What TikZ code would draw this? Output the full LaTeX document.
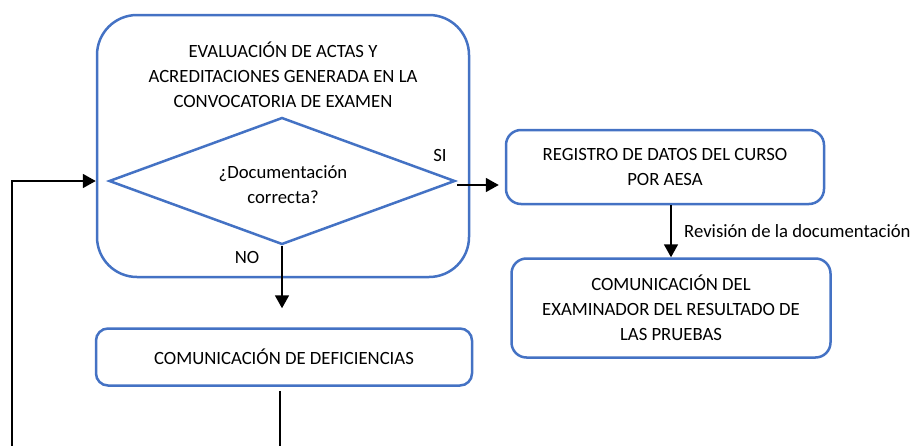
\documentclass[tikz,border=0pt]{standalone}
\usepackage{fontspec}
\setmainfont{Carlito}
\usepackage{tikz}
\usetikzlibrary{arrows.meta,shapes.geometric,positioning}
\definecolor{boxblue}{RGB}{68,114,196}
\begin{document}
\begin{tikzpicture}[font=\fontsize{18.7bp}{25bp}\selectfont,
  box/.style={draw=boxblue,line width=2.5bp,align=center,fill=white},
  flow/.style={-{Triangle[length=13bp,width=14bp]},line width=1.8bp}]
\useasboundingbox (0bp,0bp) rectangle (913bp,-446bp);
\node (eval) at (283bp,-146bp)[box,rounded corners=40bp,minimum width=372bp,minimum height=262bp] {};
\node (title) at (283bp,-75bp)[align=center] {EVALUACIÓN DE ACTAS Y\\ACREDITACIONES GENERADA EN LA\\CONVOCATORIA DE EXAMEN};
\node (dia) at (282bp,-181bp)[box,diamond,aspect=2.7,inner sep=0pt,minimum width=346bp,minimum height=127bp] {};
\node (dtext) at (283bp,-185bp)[align=center] {¿Documentación\\correcta?};
\node (si) at (440bp,-155bp) {SI};
\node (no) at (247bp,-257bp) {NO};
\node (defic) at (284bp,-357bp)[box,rounded corners=12bp,minimum width=376bp,minimum height=57bp] {COMUNICACIÓN DE DEFICIENCIAS};
\node (reg) at (665bp,-167bp)[box,rounded corners=15bp,minimum width=318bp,minimum height=74bp] {REGISTRO DE DATOS DEL CURSO\\POR AESA};
\node (com) at (671bp,-308bp)[box,rounded corners=15bp,minimum width=319bp,minimum height=99bp] {COMUNICACIÓN DEL\\EXAMINADOR DEL RESULTADO DE\\LAS PRUEBAS};
\coordinate (lft) at (12bp,-446bp);
\coordinate (bot) at (280bp,-446bp);
% flechas
\draw [flow,shorten >=19bp] (dia.south) -- (dia.south |- defic.north);
\draw [flow,shorten >=6bp] ([xshift=1bp,yshift=-4bp]dia.east) -- ([yshift=-4bp]dia.east -| reg.west);
\draw [flow] (reg.south -| com.north) -- node[right=9bp] {Revisión de la documentación} (com.north);
\draw [line width=1.8bp] ([yshift=-4bp]defic.south -| bot) -- (bot);
\draw [flow] (lft) |- (dia.west -| eval.west);
\end{tikzpicture}
\end{document}
